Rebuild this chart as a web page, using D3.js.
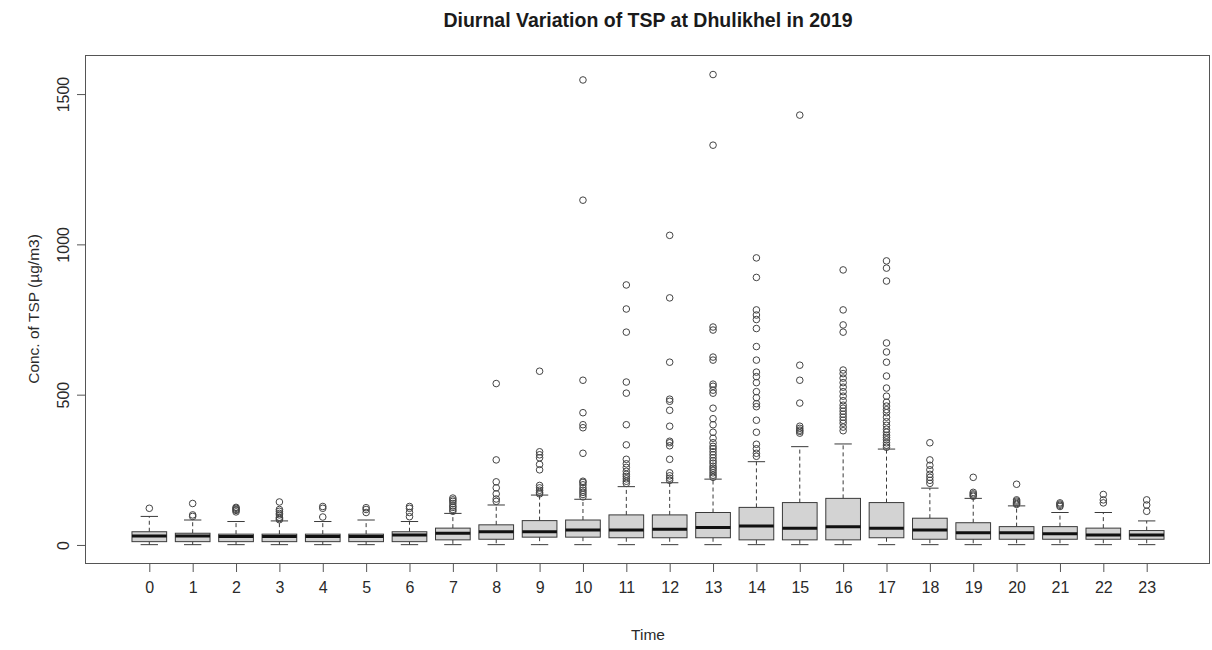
<!DOCTYPE html>
<html>
<head>
<meta charset="utf-8">
<script src="https://cdn.jsdelivr.net/npm/d3@7"></script>
<style>
html,body{margin:0;padding:0;background:#fff;}
svg{display:block;font-family:"Liberation Sans",Arial,sans-serif;}
</style>
</head>
<body>
<svg id="chart" width="1212" height="650"></svg>
<script>
const hours = ["0","1","2","3","4","5","6","7","8","9","10","11","12","13","14","15","16","17","18","19","20","21","22","23"];
const lowerWhisker = [1,1,1,1,1,1,1,1,1,1,1,1,1,1,1,1,1,1,1,1,1,1,1,1];
const q1 = [11,11,11,11,11,11,11,17,19,26,26,24,24,24,17,17,17,24,19,19,19,19,19,19];
const median = [30,30,28,28,28,28,33,39,44,44,50,50,52,58,63,56,61,56,50,41,41,37,33,33];
const q3 = [44,39,36,36,36,36,44,56,67,81,83,100,100,108,125,141,155,141,89,74,61,61,56,48];
const upperWhisker = [95,83,78,80,78,83,78,105,133,166,152,194,207,219,277,327,336,319,189,155,130,108,108,80];
const outliers = [
  [122],
  [95,100,138],
  [110,115,118,122,125],
  [84,88,92,100,105,112,118,143],
  [93,122,128],
  [108,118,124],
  [94,108,122,128],
  [112,118,125,130,138,145,150,156],
  [145,153,170,190,210,283,537],
  [170,175,182,190,198,250,268,290,300,310,578],
  [160,168,175,182,190,200,208,212,305,390,400,440,548,1147,1547],
  [205,212,220,228,235,245,258,270,285,333,400,505,542,708,785,865],
  [215,222,230,240,285,330,340,345,395,448,478,485,608,822,1030],
  [225,232,240,248,255,262,272,280,290,300,310,320,328,340,355,375,400,420,455,505,515,528,535,615,625,715,725,1330,1565],
  [295,305,320,335,375,415,460,470,490,510,540,560,575,615,660,720,750,765,782,890,955],
  [372,378,382,388,395,472,548,598,1430],
  [380,392,405,415,425,435,445,455,465,480,495,510,525,540,555,570,582,708,732,782,915],
  [325,332,340,350,358,365,375,385,398,410,425,440,450,462,475,495,522,562,608,642,672,878,921,945],
  [205,215,225,235,250,265,283,340],
  [162,166,170,175,225],
  [135,138,142,146,150,202],
  [128,132,136,140],
  [140,150,168],
  [112,133,150]
];
const yTicks = [0,500,1000,1500];
const titleText = "Diurnal Variation of TSP at Dhulikhel in 2019";
const xTitle = "Time";
const yTitle = "Conc. of TSP (\u00b5g/m3)";

const svg = d3.select("#chart");
const plot = {left:86, right:1210, top:55, bottom:563};
const lineCol = "#3a3a3a";
const textCol = "#2a2a2a";

const x = d3.scaleLinear().domain([-1.46, 24.46]).range([plot.left, plot.right]);
const y = d3.scaleLinear().domain([-60, 1630]).range([plot.bottom, plot.top]);
const unit = x(1) - x(0);
const boxW = 0.8 * unit;
const stapleW = 0.4 * unit;

const data = hours.map((h,i)=>({h, i, lo:lowerWhisker[i], q1:q1[i], med:median[i], q3:q3[i], hi:upperWhisker[i], out:outliers[i]}));

// title
svg.append("text").attr("x",(plot.left+plot.right)/2).attr("y",27)
  .attr("text-anchor","middle").attr("font-size",19.5).attr("font-weight","bold")
  .attr("fill","#1a1a1a").text(titleText);

const g = svg.append("g");
const groups = g.selectAll("g.hr").data(data).join("g").attr("class","hr");

// whiskers (dashed)
groups.append("line").attr("x1",d=>x(d.i)).attr("x2",d=>x(d.i))
  .attr("y1",d=>y(d.q3)).attr("y2",d=>y(d.hi))
  .attr("stroke",lineCol).attr("stroke-width",1).attr("stroke-dasharray","4,3");
groups.append("line").attr("x1",d=>x(d.i)).attr("x2",d=>x(d.i))
  .attr("y1",d=>y(d.q1)).attr("y2",d=>y(d.lo))
  .attr("stroke",lineCol).attr("stroke-width",1).attr("stroke-dasharray","4,3");
// staples
groups.append("line").attr("x1",d=>x(d.i)-stapleW/2).attr("x2",d=>x(d.i)+stapleW/2)
  .attr("y1",d=>y(d.hi)).attr("y2",d=>y(d.hi)).attr("stroke",lineCol).attr("stroke-width",1);
groups.append("line").attr("x1",d=>x(d.i)-stapleW/2).attr("x2",d=>x(d.i)+stapleW/2)
  .attr("y1",d=>y(d.lo)).attr("y2",d=>y(d.lo)).attr("stroke",lineCol).attr("stroke-width",1);
// boxes
groups.append("rect").attr("x",d=>x(d.i)-boxW/2).attr("width",boxW)
  .attr("y",d=>y(d.q3)).attr("height",d=>y(d.q1)-y(d.q3))
  .attr("fill","#d3d3d3").attr("stroke",lineCol).attr("stroke-width",1);
// medians
groups.append("line").attr("x1",d=>x(d.i)-boxW/2).attr("x2",d=>x(d.i)+boxW/2)
  .attr("y1",d=>y(d.med)).attr("y2",d=>y(d.med)).attr("stroke","#111").attr("stroke-width",3);
// outliers
groups.selectAll("circle").data(d=>d.out.map(v=>({i:d.i,v}))).join("circle")
  .attr("cx",d=>x(d.i)).attr("cy",d=>y(d.v)).attr("r",3.3)
  .attr("fill","none").attr("stroke","#444").attr("stroke-width",1);

// frame
svg.append("rect").attr("x",plot.left-0.5).attr("y",plot.top+0.5)
  .attr("width",plot.right-plot.left).attr("height",plot.bottom-plot.top)
  .attr("fill","none").attr("stroke","#555").attr("stroke-width",1);

// x axis
const xAxis = d3.axisBottom(x).tickValues(d3.range(hours.length)).tickFormat(i=>hours[i]).tickSize(9).tickPadding(10);
const xg = svg.append("g").attr("transform",`translate(0,${plot.bottom})`).call(xAxis);
xg.select(".domain").remove();
xg.selectAll("line").attr("stroke","#555");
xg.selectAll("text").attr("font-size",16).attr("fill",textCol).attr("font-family","Liberation Sans, Arial, sans-serif");

// y axis
const yAxis = d3.axisLeft(y).tickValues(yTicks).tickSize(9).tickPadding(0).tickFormat(d3.format("d"));
const yg = svg.append("g").attr("transform",`translate(${plot.left},0)`).call(yAxis);
yg.select(".domain").remove();
yg.selectAll("line").attr("stroke","#555");
yg.selectAll("text").attr("font-size",16).attr("fill",textCol)
  .attr("font-family","Liberation Sans, Arial, sans-serif")
  .attr("text-anchor","middle").attr("x",0).attr("dy",0)
  .attr("transform","translate(-17,0) rotate(-90)");

// axis titles
svg.append("text").attr("x",(plot.left+plot.right)/2).attr("y",640)
  .attr("text-anchor","middle").attr("font-size",15.5).attr("fill",textCol).text(xTitle);
svg.append("text").attr("transform",`translate(39,${(plot.top+plot.bottom)/2}) rotate(-90)`)
  .attr("text-anchor","middle").attr("font-size",15.5).attr("fill",textCol).text(yTitle);
</script>
</body>
</html>
